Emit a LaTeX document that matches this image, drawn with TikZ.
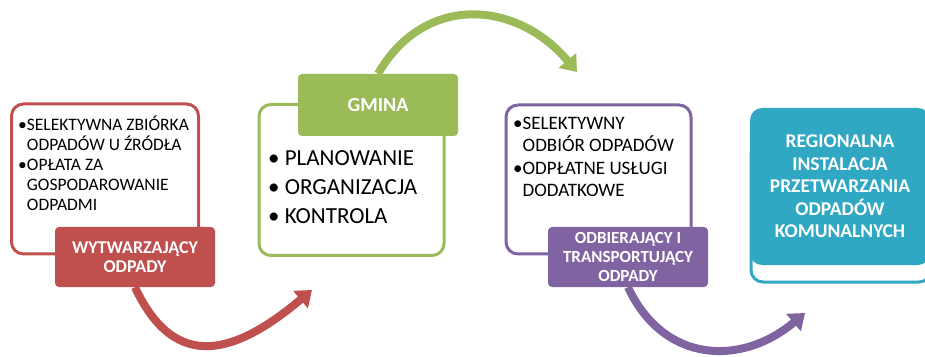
\documentclass[tikz,border=0pt]{standalone}
\usepackage{fontspec}
\setmainfont{Carlito}
\usetikzlibrary{arrows.meta}
\definecolor{redc}{RGB}{192,80,77}
\definecolor{greenc}{RGB}{155,187,89}
\definecolor{purplec}{RGB}{128,100,162}
\definecolor{tealc}{RGB}{49,168,195}

\begin{document}
\begin{tikzpicture}[x=1pt, y=1pt,
		frame_style/.style={draw=#1, line width=3pt, fill=white, rounded corners=12pt, inner sep=0pt},
		label_style/.style={fill=#1, rounded corners=4pt, minimum width=160pt, minimum height=60pt, text=white, align=center, inner sep=0pt},
		text_style/.style={anchor=west, align=left, inner sep=0pt},
		arrow_style/.style={draw=#1, line width=8pt, -{Triangle[width=22pt,length=15pt]}}]
		
		\useasboundingbox (0,0) rectangle (925,356);
		\clip (0,0) rectangle (925,356);
		
		% frames
		\node[frame_style=redc, minimum width=187pt, minimum height=150pt] (fr_red) at (105,177) {};
		\node[frame_style=greenc, minimum width=185pt, minimum height=151pt] (fr_green) at (351.5,176) {};
		\node[frame_style=purplec, minimum width=185pt, minimum height=149pt] (fr_purple) at (598.5,176.5) {};
		\node[frame_style=tealc, minimum width=180pt, minimum height=140pt] (fr_teal) at (841,144) {};
		
		% texts
		\node[text_style, font=\fontsize{17.5}{20}\selectfont] (tx_red) at (18,193)
			{•SELEKTYWNA ZBIÓRKA\\\phantom{•}ODPADÓW U ŹRÓDŁA\\•OPŁATA ZA\\\phantom{•}GOSPODAROWANIE\\\phantom{•}ODPADMI};
		\node[text_style, font=\fontsize{23}{29}\selectfont] (tx_green) at (268,169)
			{• PLANOWANIE\\• ORGANIZACJA\\• KONTROLA};
		\node[text_style, font=\fontsize{19}{22.3}\selectfont] (tx_purple) at (513,199)
			{•SELEKTYWNY\\\phantom{•}ODBIÓR ODPADÓW\\•ODPŁATNE USŁUGI\\\phantom{•}DODATKOWE};
		
		% labels
		\node[label_style=redc, font=\fontsize{18}{19}\selectfont\bfseries] (lb_red) at (135,99)
			{WYTWARZAJĄCY\\ODPADY};
		\node[label_style=greenc, minimum height=62pt, font=\fontsize{20}{22}\selectfont\bfseries] (lb_green) at (378,251)
			{GMINA};
		\node[label_style=purplec, font=\fontsize{17}{19}\selectfont\bfseries] (lb_purple) at (628,99)
			{ODBIERAJĄCY I\\TRANSPORTUJĄCY\\ODPADY};
		\node[label_style=tealc, rounded corners=12pt, minimum width=180pt, minimum height=157pt, font=\fontsize{19.5}{22.5}\selectfont\bfseries] (lb_teal) at (840,169.5)
			{REGIONALNA\\INSTALACJA\\PRZETWARZANIA\\ODPADÓW\\KOMUNALNYCH};
		
		% arrows
		\coordinate (end_red) at (312,66);
		\coordinate (end_green) at (577,284);
		\coordinate (end_purple) at (805,43);
		
		\draw[arrow_style=redc] (lb_red.south) to[out=-65, in=220, looseness=1.4] (end_red);
		\draw[arrow_style=greenc] (lb_green.north) to[out=60, in=130, looseness=1.2] (end_green);
		\draw[arrow_style=purplec] (lb_purple.south) to[out=-65, in=220, looseness=1.2] (end_purple);
		
\end{tikzpicture}
\end{document}
